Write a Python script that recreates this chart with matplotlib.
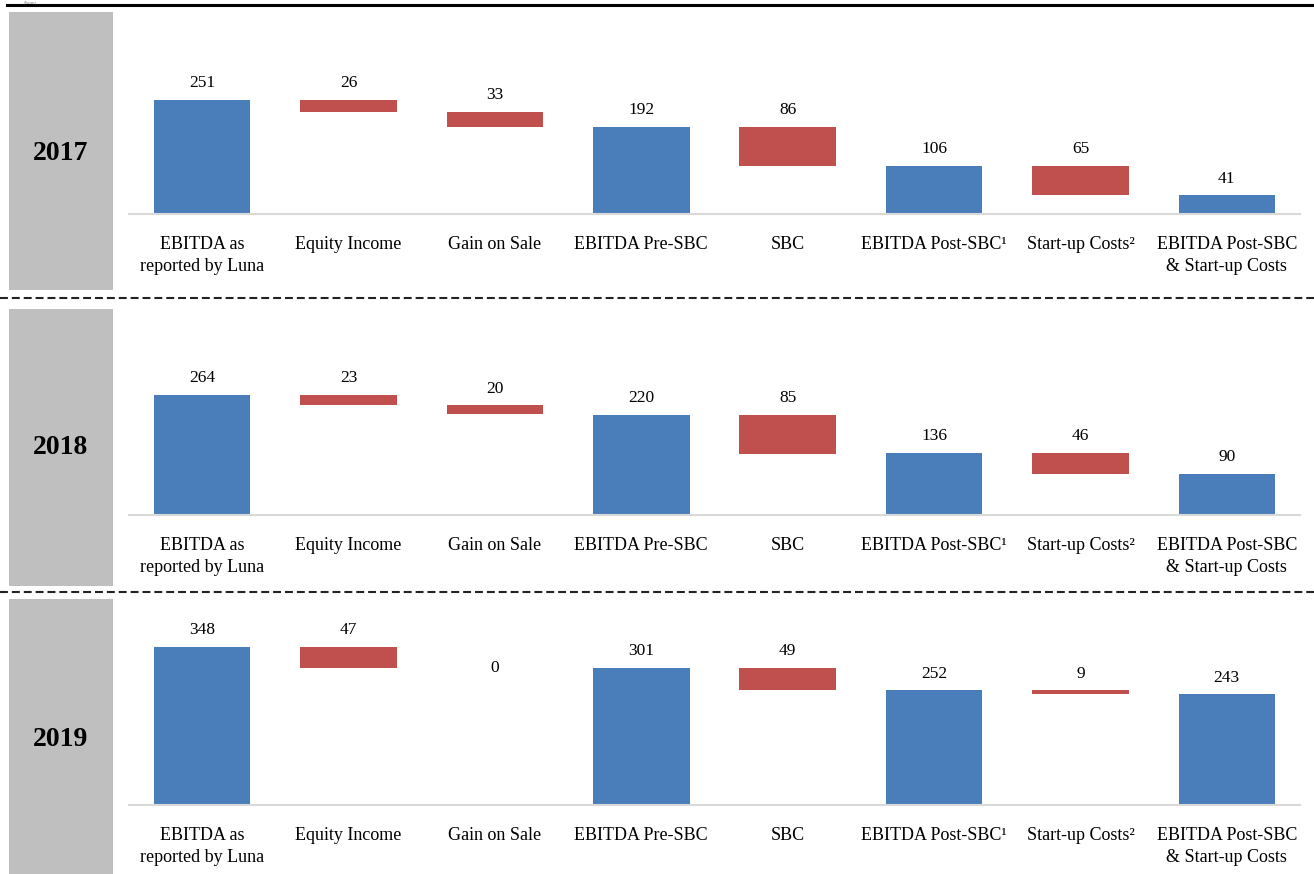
import matplotlib
matplotlib.use("Agg")
import matplotlib.pyplot as plt
from matplotlib.patches import Rectangle
from matplotlib.lines import Line2D

plt.rcParams['font.family'] = ['Liberation Serif', 'DejaVu Serif']

# EBITDA bridge data, $mm
categories = ['EBITDA as\nreported by Luna', 'Equity Income', 'Gain on Sale',
              'EBITDA Pre-SBC', 'SBC', 'EBITDA Post-SBC\u00b9', 'Start-up Costs\u00b2',
              'EBITDA Post-SBC\n& Start-up Costs']
# 't' = total bar from zero, 'd' = deduction floating from the running level
kinds = ['t', 'd', 'd', 't', 'd', 't', 'd', 't']
years = ['2017', '2018', '2019']
values_2017 = [251, 26, 33, 192, 86, 106, 65, 41]
values_2018 = [264, 23, 20, 220, 85, 136, 46, 90]
values_2019 = [348, 47, 0, 301, 49, 252, 9, 243]
all_values = [values_2017, values_2018, values_2019]

BLUE = '#4A7EBB'
RED = '#C0504D'
GRAY = '#BFBFBF'

W, H = 1314, 874
fig = plt.figure(figsize=(W / 100, H / 100), dpi=100)

px_per_unit = 0.455
# (gray box top, gray box bottom, baseline) in pixels for each panel
panels = [(12, 290, 214), (309, 586, 515), (599, 874, 805)]
year_y = [153, 448, 740]

def fx(x):
    return x / W

def fy(y):
    return 1 - y / H

# header rule and a small units note above it
fig.add_artist(Line2D([fx(7), 1], [fy(5), fy(5)], color='black', lw=2.2))
fig.text(fx(24), fy(0.5), '($mm)', fontsize=3.5, color='#888888', va='top')

# dashed separators between years
for y in [298, 592]:
    fig.add_artist(Line2D([0, 1], [fy(y), fy(y)], color='#222222', lw=1.5,
                          linestyle=(0, (3.8, 1.9))))

for i, (top, bottom, base) in enumerate(panels):
    # gray year tab
    fig.add_artist(Rectangle((fx(9), fy(bottom)), fx(104), (bottom - top) / H,
                             facecolor=GRAY, edgecolor='none'))
    fig.text(fx(61), fy(year_y[i]), years[i], fontsize=20, fontweight='bold',
             ha='center', va='center')

    ax = fig.add_axes([fx(129), fy(base), fx(1171), (base - top) / H])
    ymax = (base - top) / px_per_unit
    ax.set_ylim(0, ymax)
    ax.set_xlim(-0.5, len(categories) - 0.5)

    vals = all_values[i]
    level = 0
    for j, (k, v) in enumerate(zip(kinds, vals)):
        if k == 't':
            ax.bar(j, v, width=0.66, color=BLUE)
            level = v
            top_val = v
        else:
            ax.bar(j, v, bottom=level - v, width=0.66, color=RED)
            top_val = level
            level = level - v
        if v == 0:
            ax.annotate(str(v), (j, top_val), ha='center', va='center', fontsize=12.5)
        else:
            ax.annotate(str(v), (j, top_val), xytext=(0, 12), textcoords='offset points',
                        ha='center', va='center', fontsize=12.5)

    ax.set_xticks(range(len(categories)))
    ax.set_xticklabels(categories, fontsize=13, linespacing=1.45)
    ax.tick_params(axis='x', length=0, pad=15.5)
    ax.set_yticks([])
    for s in ['top', 'right', 'left']:
        ax.spines[s].set_visible(False)
    ax.spines['bottom'].set_color('#D9D9D9')
    ax.spines['bottom'].set_linewidth(1.5)
    ax.patch.set_alpha(0)

fig.savefig('out.png', dpi=100)
